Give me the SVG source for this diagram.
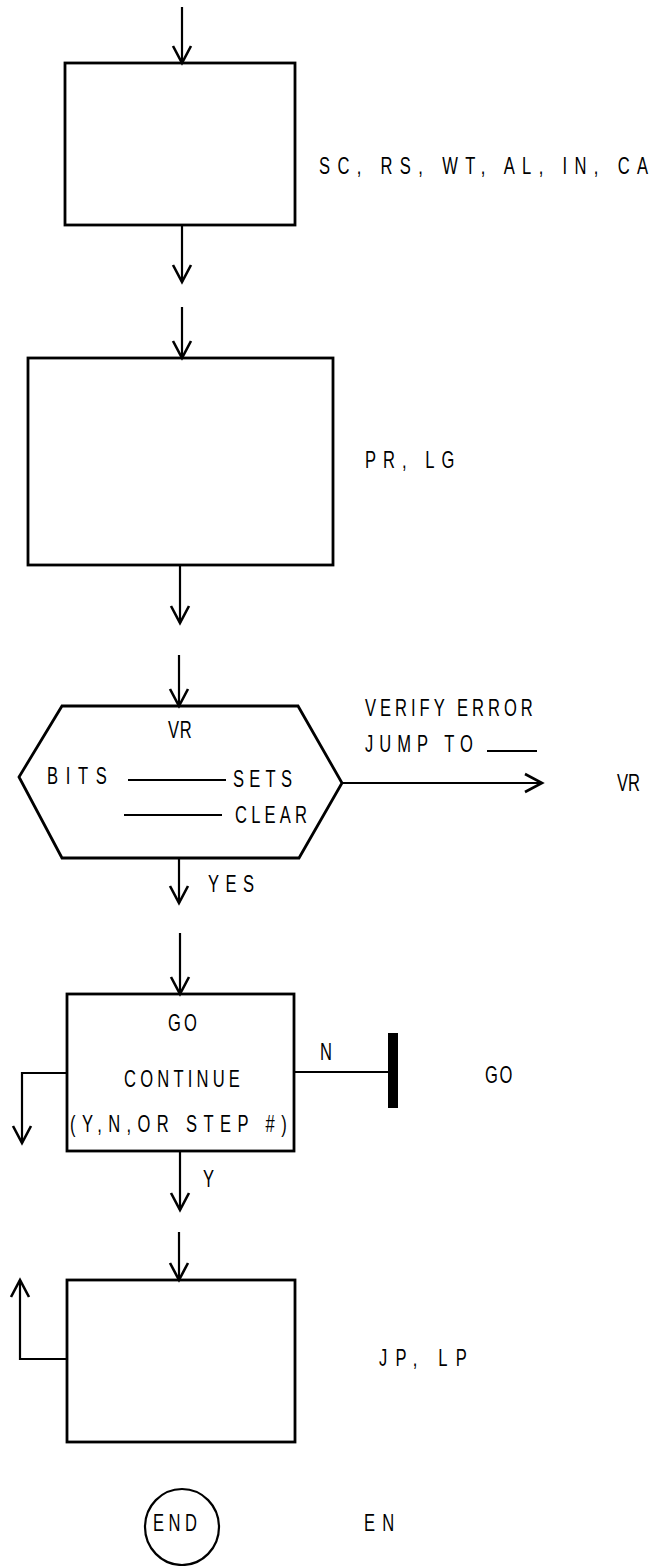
<svg xmlns="http://www.w3.org/2000/svg" width="654" height="1566" viewBox="0 0 654 1566">
<style>
.box{fill:none;stroke:#000;stroke-width:2.8}
.ln{fill:none;stroke:#000;stroke-width:2.2}
.t{font-family:"Liberation Sans",Arial,sans-serif;font-size:23px;fill:#000}
</style>
<defs>
<marker id="ah" markerUnits="userSpaceOnUse" markerWidth="22" markerHeight="22" refX="18" refY="10" orient="auto" viewBox="0 0 22 20">
<path d="M1,1 L18,10 L1,19" fill="none" stroke="#000" stroke-width="2.6"/>
</marker>
</defs>
<rect width="654" height="1566" fill="#fff"/>
<g id="connectors">
<line class="ln" x1="182" y1="7" x2="182" y2="63" marker-end="url(#ah)"/>
<line class="ln" x1="182" y1="225" x2="182" y2="282" marker-end="url(#ah)"/>
<line class="ln" x1="182" y1="307" x2="182" y2="358" marker-end="url(#ah)"/>
<line class="ln" x1="180" y1="565" x2="180" y2="623" marker-end="url(#ah)"/>
<line class="ln" x1="179" y1="655" x2="179" y2="706" marker-end="url(#ah)"/>
<line class="ln" x1="342" y1="783" x2="542" y2="783" marker-end="url(#ah)"/>
<line class="ln" x1="179" y1="858" x2="179" y2="903" marker-end="url(#ah)"/>
<line class="ln" x1="180" y1="933" x2="180" y2="994" marker-end="url(#ah)"/>
<line class="ln" x1="294" y1="1072" x2="390" y2="1072"/>
<polyline class="ln" points="67,1073 22,1073 22,1143" marker-end="url(#ah)"/>
<line class="ln" x1="180" y1="1151" x2="180" y2="1210" marker-end="url(#ah)"/>
<line class="ln" x1="179" y1="1232" x2="179" y2="1280" marker-end="url(#ah)"/>
<polyline class="ln" points="67,1359 20,1359 20,1280" marker-end="url(#ah)"/>
<text class="t" transform="translate(365,716) scale(0.72,1)" textLength="233" lengthAdjust="spacing">VERIFY ERROR</text>
<text class="t" transform="translate(365,752) scale(0.72,1)" textLength="150" lengthAdjust="spacing">JUMP TO</text>
<line class="ln" x1="487" y1="751" x2="537" y2="751"/>
<text class="t" transform="translate(208,892) scale(0.72,1)" textLength="64" lengthAdjust="spacing">YES</text>
<text class="t" transform="translate(320,1060) scale(0.72,1)">N</text>
<text class="t" transform="translate(203,1187) scale(0.72,1)">Y</text>
</g>
<g id="n1">
<rect class="box" x="65" y="63" width="230" height="162"/>
<text class="t" transform="translate(319,174) scale(0.72,1)" textLength="457" lengthAdjust="spacing">SC, RS, WT, AL, IN, CA</text>
</g>
<g id="n2">
<rect class="box" x="28" y="358" width="305" height="207"/>
<text class="t" transform="translate(365,468) scale(0.72,1)" textLength="124" lengthAdjust="spacing">PR, LG</text>
</g>
<g id="n3">
<polygon class="box" points="62,706 298,706 342,783 299,858 62,858 19,777"/>
<text class="t" transform="translate(168,738) scale(0.72,1)" textLength="33" lengthAdjust="spacing">VR</text>
<text class="t" transform="translate(47,784) scale(0.72,1)" textLength="83" lengthAdjust="spacing">BITS</text>
<line class="ln" x1="128" y1="780" x2="226" y2="780"/>
<text class="t" transform="translate(233,787) scale(0.72,1)" textLength="82" lengthAdjust="spacing">SETS</text>
<line class="ln" x1="124" y1="815" x2="222" y2="815"/>
<text class="t" transform="translate(235,823) scale(0.72,1)" textLength="100" lengthAdjust="spacing">CLEAR</text>
<text class="t" transform="translate(617,791) scale(0.72,1)" textLength="32" lengthAdjust="spacing">VR</text>
</g>
<g id="n4">
<rect class="box" x="67" y="994" width="227" height="157"/>
<text class="t" transform="translate(168,1031) scale(0.72,1)" textLength="40" lengthAdjust="spacing">GO</text>
<text class="t" transform="translate(124,1087) scale(0.72,1)" textLength="161" lengthAdjust="spacing">CONTINUE</text>
<text class="t" transform="translate(70,1132) scale(0.72,1)" textLength="301" lengthAdjust="spacing">(Y,N,OR STEP #)</text>
<rect x="388" y="1033" width="10" height="75" fill="#000"/>
<text class="t" transform="translate(485,1083) scale(0.72,1)" textLength="38" lengthAdjust="spacing">GO</text>
</g>
<g id="n5">
<rect class="box" x="67" y="1280" width="228" height="162"/>
<text class="t" transform="translate(379,1366) scale(0.72,1)" textLength="122" lengthAdjust="spacing">JP, LP</text>
</g>
<g id="n6">
<ellipse class="ln" cx="182" cy="1527" rx="37" ry="38"/>
<text class="t" transform="translate(153,1531) scale(0.72,1)" textLength="61" lengthAdjust="spacing">END</text>
<text class="t" transform="translate(364,1531) scale(0.72,1)" textLength="42" lengthAdjust="spacing">EN</text>
</g>
</svg>
